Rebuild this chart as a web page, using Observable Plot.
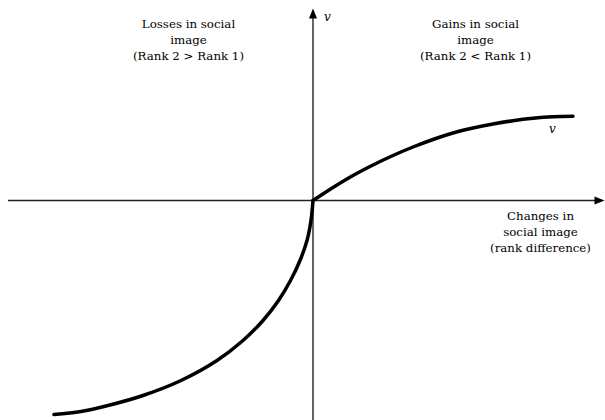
<!DOCTYPE html>
<html><head><meta charset="utf-8">
<script src="https://cdn.jsdelivr.net/npm/d3@7"></script>
<script src="https://cdn.jsdelivr.net/npm/@observablehq/plot@0.6"></script>
<style>body{margin:0;background:#fff}</style>
</head><body><div id="chart"></div>
<script>
// Value function v over changes in social image (rank difference)
const gainX = [0, 20, 40, 60, 80, 100, 120, 140, 160, 180, 200, 220, 240, 260];
const gainV = [0, 13, 25, 35.5, 45, 53.5, 61, 67.5, 72.5, 76.5, 79.8, 82.2, 83.7, 84.2];
const lossX = [-259, -232, -205, -170, -132, -96, -70, -50, -34.5, -22.5, -13, -6, -2, 0];
const lossV = [-214, -211, -205, -195, -180, -160, -140, -120, -100, -80, -60, -40, -20, 0];

// Axis extents
const xAxisExtent = [-304.5, 289];
const yAxisExtent = [-220, 186];
const xArrowTip = [{x: 291.5, y: 0}];
const yArrowTip = [{x: 0, y: 192}];

// Annotation labels
const labels = [
  {x: -124.5, y: 162, text: "Losses in social\nimage\n(Rank 2 > Rank 1)"},
  {x: 162.5, y: 162, text: "Gains in social\nimage\n(Rank 2 < Rank 1)"},
  {x: 227.5, y: -30, text: "Changes in\nsocial image\n(rank difference)"}
];
const vLabels = [
  {x: 14.5, y: 183, text: "v"},
  {x: 239.5, y: 71, text: "v"}
];

const gains = gainX.map((x, i) => ({x, v: gainV[i]}));
const losses = lossX.map((x, i) => ({x, v: lossV[i]}));

// Filled arrowhead symbols, tip at the anchor point
const headRight = {draw(ctx, size) { const r = Math.sqrt(size / Math.PI); ctx.moveTo(0, 0); ctx.lineTo(-2.5 * r, -r); ctx.lineTo(-2.5 * r, r); ctx.closePath(); }};
const headUp = {draw(ctx, size) { const r = Math.sqrt(size / Math.PI); ctx.moveTo(0, 0); ctx.lineTo(-r, 2.5 * r); ctx.lineTo(r, 2.5 * r); ctx.closePath(); }};

const serif = "DejaVu Serif";

const chart = Plot.plot({
  width: 605,
  height: 420,
  margin: 0,
  x: {domain: [-312.5, 292.5], axis: null},
  y: {domain: [-220, 200], axis: null},
  style: {background: "#fff"},
  marks: [
    Plot.ruleY([0], {x1: xAxisExtent[0], x2: xAxisExtent[1], stroke: "#222", strokeWidth: 1.3}),
    Plot.ruleX([0], {y1: yAxisExtent[0], y2: yAxisExtent[1], stroke: "#111", strokeWidth: 1.3}),
    Plot.dot(xArrowTip, {x: "x", y: "y", symbol: headRight, r: 4, fill: "#000", stroke: null}),
    Plot.dot(yArrowTip, {x: "x", y: "y", symbol: headUp, r: 4, fill: "#000", stroke: null}),
    Plot.line(losses, {x: "x", y: "v", curve: "catmull-rom", stroke: "#000", strokeWidth: 3.5}),
    Plot.line(gains, {x: "x", y: "v", curve: "catmull-rom", stroke: "#000", strokeWidth: 3.5}),
    Plot.text(labels, {x: "x", y: "y", text: "text", fontSize: 11.8, fontFamily: serif, lineHeight: 1.36, textAnchor: "middle", fill: "#000"}),
    Plot.text(vLabels, {x: "x", y: "y", text: "text", fontSize: 12, fontFamily: serif, fontStyle: "italic", textAnchor: "middle", fill: "#000"})
  ]
});
document.getElementById("chart").append(chart);
</script>
</body></html>
